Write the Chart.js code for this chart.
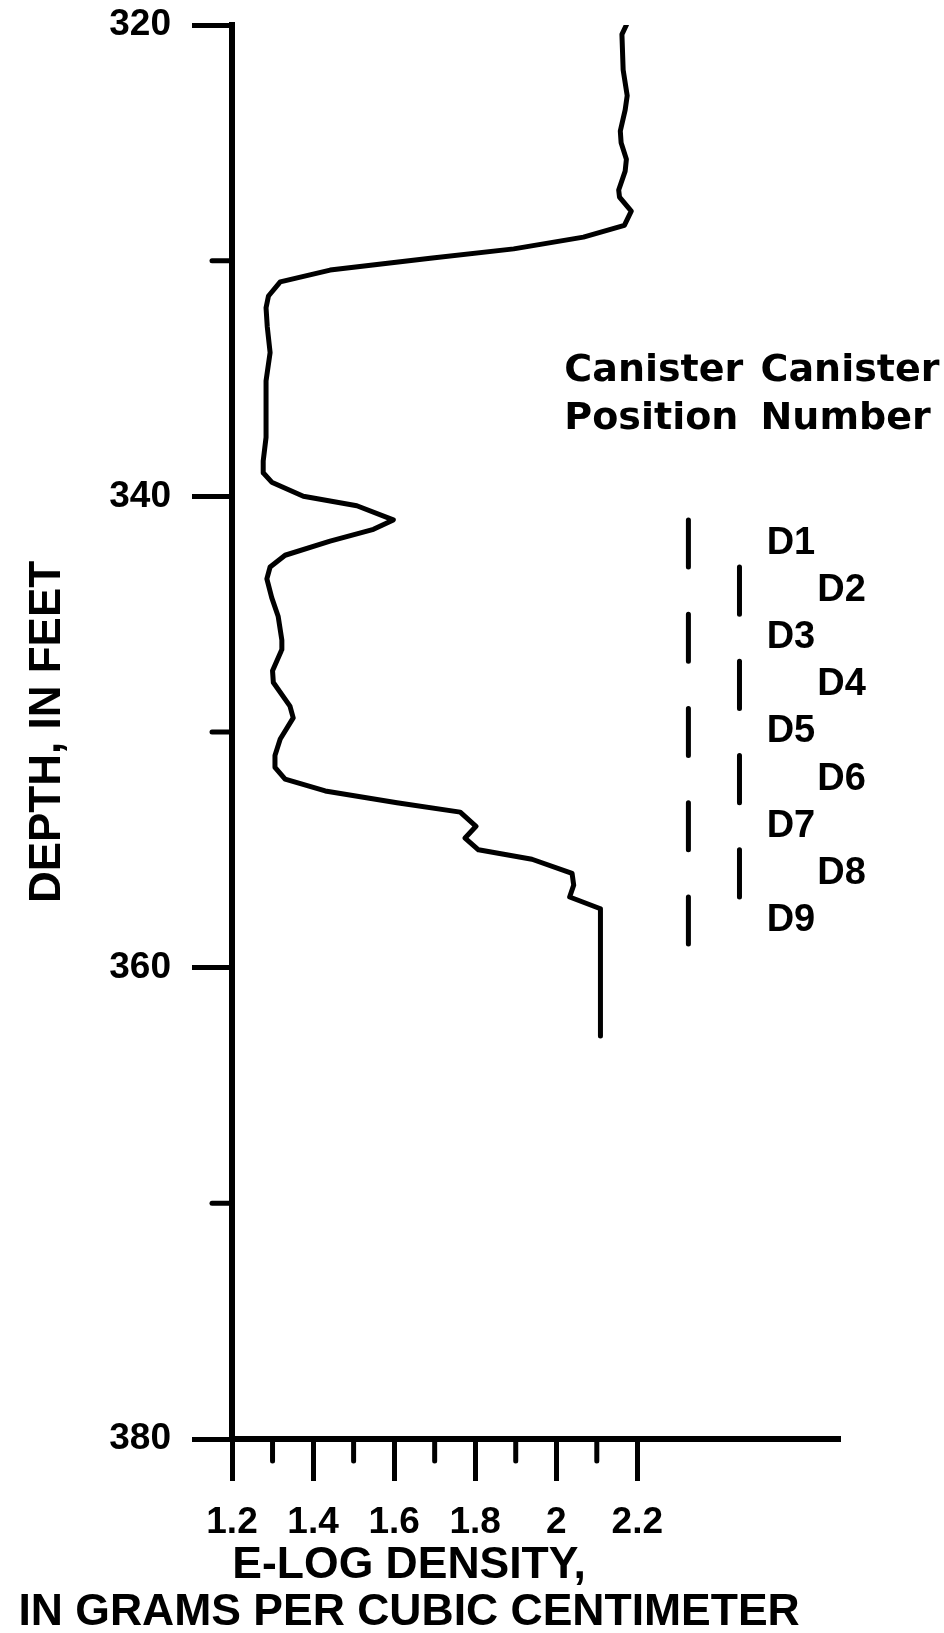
<!DOCTYPE html>
<html>
<head>
<meta charset="utf-8">
<script src="https://cdn.jsdelivr.net/npm/chart.js@4.4.1/dist/chart.umd.min.js"></script>
<style>
  html, body { margin:0; padding:0; background:#fff; }
  canvas { display:block; }
</style>
</head>
<body>
<canvas id="chart" width="944" height="1633"></canvas>
<script>
const depthFt = [
  320.0, 320.4, 321.9, 323.0, 323.6, 324.5, 325.0, 325.7, 326.2, 327.0,
  327.3, 327.9, 328.5, 329.0, 329.5, 329.9, 330.4, 330.9, 331.5, 332.0,
  332.8, 333.9, 335.1, 337.5, 338.5, 339.0, 339.4, 340.0, 340.4, 341.0,
  341.4, 341.9, 342.5, 343.0, 343.5, 344.3, 345.1, 346.1, 346.5, 347.4,
  347.9, 348.9, 349.4, 350.3, 351.0, 351.5, 352.0, 352.5, 353.0, 353.4,
  354.0, 354.5, 355.0, 355.4, 356.0, 356.5, 357.0, 357.5, 362.9
];
const densityGcc = [
  2.173, 2.162, 2.165, 2.175, 2.170, 2.158, 2.160, 2.173, 2.170, 2.154,
  2.156, 2.185, 2.168, 2.067, 1.895, 1.689, 1.442, 1.319, 1.290, 1.284,
  1.287, 1.294, 1.284, 1.284, 1.277, 1.277, 1.298, 1.376, 1.508, 1.598,
  1.549, 1.442, 1.331, 1.294, 1.286, 1.298, 1.314, 1.323, 1.323, 1.300,
  1.302, 1.343, 1.351, 1.319, 1.306, 1.306, 1.331, 1.430, 1.607, 1.763,
  1.802, 1.775, 1.808, 1.940, 2.039, 2.043, 2.033, 2.109, 2.109
];

const yTicks = [320, 340, 360, 380];
const yMinorTicks = [330, 350, 370];
const xTicks = [1.2, 1.4, 1.6, 1.8, 2.0, 2.2];
const xTickLabels = ["1.2", "1.4", "1.6", "1.8", "2", "2.2"];
const xMinorTicks = [1.3, 1.5, 1.7, 1.9, 2.1];

const canisterNames = ["D1", "D2", "D3", "D4", "D5", "D6", "D7", "D8", "D9"];
const canisterTopFt = [341, 343, 345, 347, 349, 351, 353, 355, 357];
const canisterBottomFt = [343, 345, 347, 349, 351, 353, 355, 357, 359];

// ---------- layout (in axis units) ----------
const COL_X = [2.326, 2.452];      // dash columns, odd / even canisters
const LABEL_X = [2.519, 2.644];    // left edge of canister names
const HEAD_X = [2.02, 2.504];
const HEAD_DEPTH = [334.68, 336.72];
const FONT = "'Liberation Sans', Arial, sans-serif";
const WIDE = "'DejaVu Sans', Verdana, sans-serif";

function canisterSeries(col){
  const pts = [];
  canisterNames.forEach((n, i) => {
    if(i % 2 !== col) return;
    pts.push({x: COL_X[col], y: canisterTopFt[i]});
    pts.push({x: COL_X[col], y: canisterBottomFt[i]});
    pts.push({x: COL_X[col], y: null});
  });
  return pts;
}

const lineStyle = {
  showLine: true, pointRadius: 0, borderColor: "#000", borderWidth: 5,
  borderJoinStyle: "round", borderCapStyle: "round", tension: 0, spanGaps: false
};

const extras = {
  id: "extras",
  afterDraw(chart){
    const {ctx, chartArea: ca, scales: {x, y}} = chart;
    const seg = (x1, y1, x2, y2) => { ctx.beginPath(); ctx.moveTo(x1, y1); ctx.lineTo(x2, y2); ctx.stroke(); };
    ctx.save();
    ctx.strokeStyle = "#000"; ctx.lineWidth = 5; ctx.lineCap = "round";
    yMinorTicks.forEach(v => { const py = y.getPixelForValue(v); seg(ca.left, py, ca.left - 20, py); });
    xMinorTicks.forEach(v => { const px = x.getPixelForValue(v); seg(px, ca.bottom, px, ca.bottom + 22); });

    ctx.fillStyle = "#000"; ctx.textBaseline = "middle"; ctx.textAlign = "left";
    // column headers
    ctx.font = "bold 38px " + WIDE;
    [["Canister", "Position"], ["Canister", "Number"]].forEach((lines, c) => {
      lines.forEach((t, k) => ctx.fillText(t, x.getPixelForValue(HEAD_X[c]), y.getPixelForValue(HEAD_DEPTH[k])));
    });
    // canister names
    ctx.font = "bold 38px " + FONT;
    canisterNames.forEach((n, i) => {
      const mid = (canisterTopFt[i] + canisterBottomFt[i]) / 2;
      ctx.fillText(n, x.getPixelForValue(LABEL_X[i % 2]), y.getPixelForValue(mid));
    });
    // x axis title
    ctx.font = "bold 44.5px " + FONT; ctx.textAlign = "center";
    const cx = x.getPixelForValue(1.637);
    ctx.fillText("E-LOG DENSITY,", cx, ca.bottom + 127);
    ctx.fillText("IN GRAMS PER CUBIC CENTIMETER", cx, ca.bottom + 174);
    ctx.restore();
  }
};

Chart.defaults.font.family = FONT;
Chart.defaults.color = "#000";

new Chart(document.getElementById("chart"), {
  type: "scatter",
  data: {
    datasets: [
      Object.assign({ label: "E-log density", data: depthFt.map((d, i) => ({x: densityGcc[i], y: d})) }, lineStyle),
      Object.assign({ label: "Canisters odd", data: canisterSeries(0) }, lineStyle),
      Object.assign({ label: "Canisters even", data: canisterSeries(1) }, lineStyle)
    ]
  },
  options: {
    responsive: false, animation: false, devicePixelRatio: 1,
    layout: { padding: { top: 25, right: 104, bottom: 0, left: 0 } },
    plugins: { legend: { display: false }, tooltip: { enabled: false } },
    scales: {
      x: {
        type: "linear", position: "bottom", min: 1.2, max: 2.7,
        afterBuildTicks: s => { s.ticks = xTicks.map(v => ({value: v})); },
        afterFit: s => { s.height = 194; s.paddingLeft = 0; s.paddingRight = 0; },
        ticks: { callback: (v, i) => xTickLabels[i], autoSkip: false, maxRotation: 0, padding: 20,
                 font: { size: 37, weight: "bold" } },
        grid: { drawOnChartArea: false, drawTicks: true, tickLength: 42, tickWidth: 5, tickColor: "#000" },
        border: { display: true, color: "#000", width: 6 }
      },
      y: {
        type: "linear", position: "left", min: 320, max: 380, reverse: true,
        afterBuildTicks: s => { s.ticks = yTicks.map(v => ({value: v})); },
        afterFit: s => { s.width = 232; s.paddingTop = 0; s.paddingBottom = 0; },
        ticks: { autoSkip: false, padding: 21, font: { size: 37, weight: "bold" } },
        grid: { drawOnChartArea: false, drawTicks: true, tickLength: 40, tickWidth: 5, tickColor: "#000" },
        border: { display: true, color: "#000", width: 6 },
        title: { display: true, text: "DEPTH, IN FEET", font: { size: 44, weight: "bold" }, padding: { top: 21, bottom: 0 } }
      }
    }
  },
  plugins: [extras]
});
</script>
</body>
</html>
